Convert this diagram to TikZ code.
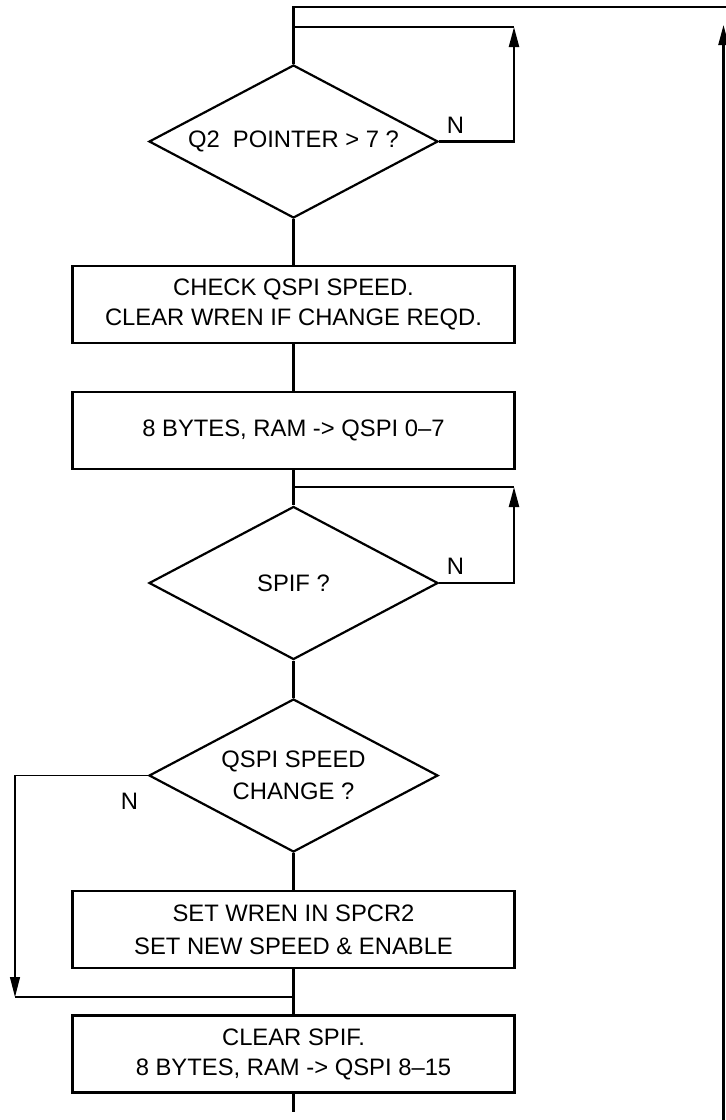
\documentclass[tikz,border=0pt]{standalone}
\usepackage{fontspec}
\setmainfont{Liberation Sans}
\usetikzlibrary{shapes.geometric,arrows.meta}
\begin{document}
\begin{tikzpicture}[x=1pt,y=-1pt,
  every node/.style={font=\fontsize{23.8}{30}\selectfont},
  main/.style={line width=2.2pt},
  thin/.style={line width=1.1pt},
  arr/.style={-{Triangle[length=20pt,width=10pt]}},
  procbox/.style={draw,line width=2.2pt,rectangle,minimum width=442pt,minimum height=77pt,inner sep=0pt,align=center},
  decision/.style={draw,line width=2.2pt,diamond,aspect=1.89,minimum width=289pt,minimum height=153pt,inner sep=0pt,align=center},
  lbl/.style={inner sep=0pt}
]
\useasboundingbox (0,0) rectangle (726,1120);

\node[decision] (d1) at (293.5,141.5) {Q2\ \ POINTER > 7 ?};
\node[procbox] (b1) at (293.5,304.5) {CHECK QSPI SPEED.\\CLEAR WREN IF CHANGE REQD.};
\node[procbox] (b2) at (293.5,430.5) {8 BYTES, RAM -> QSPI 0–7};
\node[decision] (d2) at (293.5,583) {SPIF ?};
\node[decision,font=\fontsize{23.8}{32}\selectfont] (d3) at (293.5,775.5) {QSPI SPEED\\CHANGE ?};
\node[procbox,font=\fontsize{23.8}{33}\selectfont] (b3) at (293.5,929.5) {SET WREN IN SPCR2\\SET NEW SPEED \& ENABLE};
\node[procbox] (b4) at (293.5,1054) {CLEAR SPIF.\\8 BYTES, RAM -> QSPI 8–15};

\node[lbl] (n1) at (455.5,125) {N};
\node[lbl] (n2) at (455.5,566) {N};
\node[lbl] (n3) at (129.5,801) {N};

\coordinate (top) at (293.5,7);
\coordinate (topr) at (726,7);
\coordinate (l1) at (293.5,27);
\coordinate (r1) at (514,27);
\coordinate (r1b) at (514,141.5);
\coordinate (l2) at (293.5,487);
\coordinate (r2) at (514,487);
\coordinate (r2b) at (514,583);
\coordinate (ll) at (15,775.5);
\coordinate (llb) at (15,997);
\coordinate (jn) at (293.5,997);
\coordinate (bend) at (293.5,1112);
\coordinate (ob) at (723.5,1120);
\coordinate (ot) at (723.5,25);

% main flow
\draw[main] (d1.north) -- (top) -- (topr);
\draw[main] (d1.south) -- (b1.north);
\draw[main] (b1.south) -- (b2.north);
\draw[main] (b2.south) -- (d2.north);
\draw[main] (d2.south) -- (d3.north);
\draw[main] (d3.south) -- (b3.north);
\draw[main] (b3.south) -- (b4.north);
\draw[main] (b4.south) -- (bend);

% loop 1
\draw[main,arr] (d1.east) -- (r1b) -- (r1);
\draw[line width=1.6pt] (l1) -- (r1);
% loop 2
\draw[main,arr] (d2.east) -- (r2b) -- (r2);
\draw[thin] (l2) -- (r2);
% left bypass
\draw[thin,arr] (d3.west) -- (ll) -- (llb);
\draw[thin] (llb) -- (jn);
% outer return
\draw[main,arr] (ob) -- (ot);
\end{tikzpicture}
\end{document}
